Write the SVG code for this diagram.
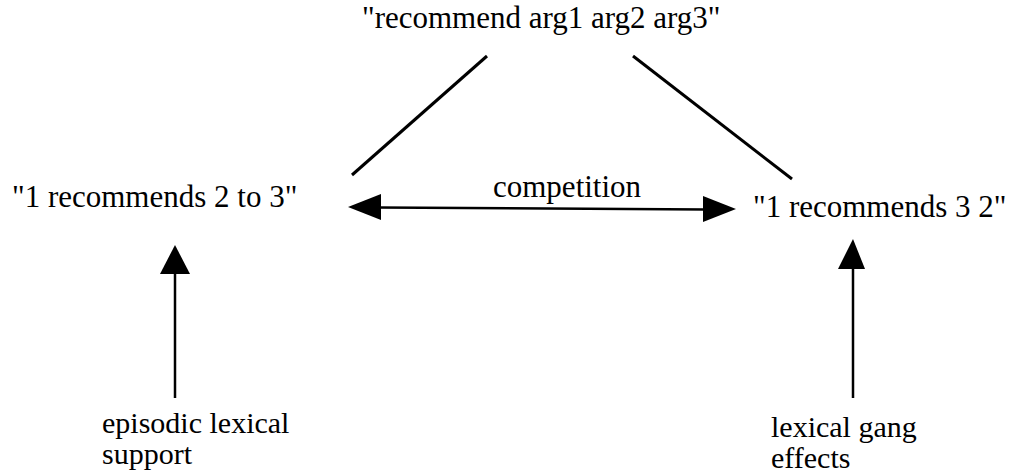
<svg xmlns="http://www.w3.org/2000/svg" width="1010" height="473" viewBox="0 0 1010 473">
  <style>
    text { font-size: 31px; fill: #000; }
    .small { font-size: 30px; }
    .edge { stroke: #000; stroke-width: 3; fill: none; stroke-linecap: butt; }
    .arrow { stroke: #000; stroke-width: 2.5; fill: none; }
    .head { fill: #000; stroke: none; }
  </style>
  <rect width="1010" height="473" fill="#fff"/>

  <g id="connectors">
    <!-- frame links from the verb frame down to both constructions -->
    <line class="edge" x1="487" y1="56" x2="352" y2="175"/>
    <line class="edge" x1="633" y1="56" x2="792" y2="179"/>
    <!-- competition double arrow -->
    <line class="arrow" x1="378" y1="207.5" x2="706" y2="209.5"/>
    <polygon class="head" points="348,207 381,194 381,220"/>
    <polygon class="head" points="736,209 703,196 703,222"/>
    <!-- support arrows from below -->
    <line class="arrow" x1="175" y1="272" x2="175" y2="398"/>
    <polygon class="head" points="175,245 160,274 190,274"/>
    <line class="arrow" x1="853" y1="266" x2="853" y2="398"/>
    <polygon class="head" points="853,239 838,269 865,269"/>
  </g>

  <g font-family="'Liberation Serif', 'DejaVu Serif', serif">
    <g id="node-frame">
      <text x="362" y="28">"recommend arg1 arg2 arg3"</text>
    </g>
    <g id="node-prepositional">
      <text x="12" y="207">"1 recommends 2 to 3"</text>
    </g>
    <g id="node-double-object">
      <text x="753" y="217">"1 recommends 3 2"</text>
    </g>
    <g id="label-competition">
      <text x="493" y="197">competition</text>
    </g>
    <g id="node-episodic">
      <text class="small" x="102" y="433">episodic lexical</text>
      <text class="small" x="102" y="464">support</text>
    </g>
    <g id="node-gang">
      <text class="small" x="771" y="437">lexical gang</text>
      <text class="small" x="771" y="468">effects</text>
    </g>
  </g>
</svg>
